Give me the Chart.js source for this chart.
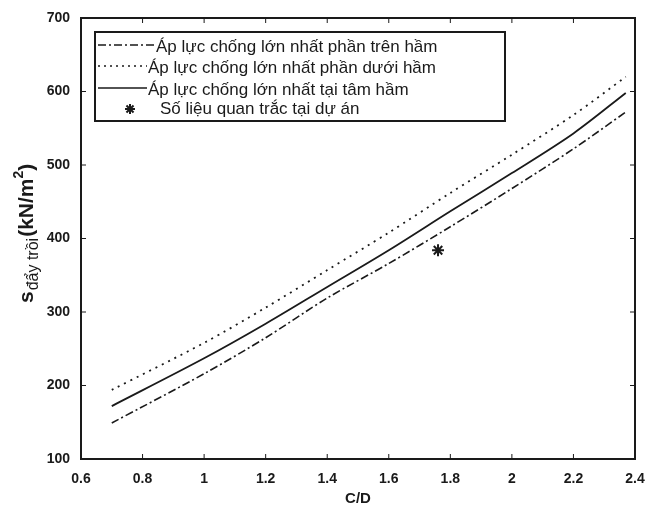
<!DOCTYPE html>
<html>
<head>
<meta charset="utf-8">
<script src="https://cdn.jsdelivr.net/npm/chart.js@4.4.1/dist/chart.umd.min.js"></script>
<style>
  html, body { margin: 0; padding: 0; background: #fff; }
  #wrap { width: 649px; height: 512px; }
</style>
</head>
<body>
<div id="wrap"><canvas id="apLucChart" width="649" height="512"></canvas></div>
<script>
// --- data ---
const cdValues   = [0.7, 1.0, 1.2, 1.4, 1.6, 1.8, 2.0, 2.2, 2.37];
const trenHam    = [149, 216, 265, 319, 366, 416, 468, 522, 572]; // dash-dot
const duoiHam    = [194, 258, 306, 357, 408, 462, 514, 568, 620]; // dotted
const tamHam     = [172, 237, 284, 334, 384, 437, 489, 543, 598]; // solid
const obsCD      = [1.76];
const obsValue   = [384];
const xTicks     = [0.6, 0.8, 1, 1.2, 1.4, 1.6, 1.8, 2, 2.2, 2.4];
const yTicks     = [100, 200, 300, 400, 500, 600, 700];
const legendText = [
  'Áp lực chống lớn nhất phần trên hầm',
  'Áp lực chống lớn nhất phần dưới hầm',
  'Áp lực chống lớn nhất tại tâm hầm',
  'Số liệu quan trắc tại dự án'
];

const ink = '#1a1a1a';
const fontFam = '"Liberation Sans", Arial, sans-serif';
const toPoints = (xs, ys) => xs.map((x, i) => ({ x: x, y: ys[i] }));

// --- axis box, inward ticks, legend and y title (MATLAB look) ---
const matlabDecor = {
  id: 'matlabDecor',
  afterDraw(chart) {
    const ctx = chart.ctx;
    const area = chart.chartArea;
    const xs = chart.scales.x;
    const ys = chart.scales.y;
    ctx.save();
    ctx.strokeStyle = ink;
    ctx.lineWidth = 2;
    ctx.strokeRect(area.left, area.top, area.right - area.left, area.bottom - area.top);

    ctx.lineWidth = 1;
    xTicks.forEach(v => {
      const px = xs.getPixelForValue(v);
      ctx.beginPath();
      ctx.moveTo(px, area.bottom); ctx.lineTo(px, area.bottom - 5);
      ctx.moveTo(px, area.top); ctx.lineTo(px, area.top + 5);
      ctx.stroke();
    });
    yTicks.forEach(v => {
      const py = ys.getPixelForValue(v);
      ctx.beginPath();
      ctx.moveTo(area.left, py); ctx.lineTo(area.left + 5, py);
      ctx.moveTo(area.right, py); ctx.lineTo(area.right - 5, py);
      ctx.stroke();
    });

    // legend box
    ctx.lineWidth = 2;
    ctx.strokeRect(95, 32, 410, 89);
    const rows = [47, 68, 90, 109];
    const dashes = [[8, 3, 2, 3], [2, 4], []];
    ctx.lineWidth = 1.6;
    for (let i = 0; i < 3; i++) {
      ctx.setLineDash(dashes[i]);
      ctx.beginPath();
      ctx.moveTo(98, rows[i] - 2);
      ctx.lineTo(i === 0 ? 154 : 147, rows[i] - 2);
      ctx.stroke();
    }
    ctx.setLineDash([]);
    // star marker
    const sx = 130, sy = rows[3];
    ctx.lineWidth = 2;
    ctx.beginPath();
    for (let k = 0; k < 4; k++) {
      const a = k * Math.PI / 4;
      ctx.moveTo(sx - 5 * Math.cos(a), sy - 5 * Math.sin(a));
      ctx.lineTo(sx + 5 * Math.cos(a), sy + 5 * Math.sin(a));
    }
    ctx.stroke();

    ctx.fillStyle = ink;
    ctx.font = '17px ' + fontFam;
    ctx.textBaseline = 'middle';
    ctx.textAlign = 'left';
    const textX = [156, 148, 148, 160];
    legendText.forEach((t, i) => ctx.fillText(t, textX[i], rows[i]));

    // y axis title: s_{đẩy trồi}(kN/m^2)
    ctx.translate(33, 303);
    ctx.rotate(-Math.PI / 2);
    ctx.textBaseline = 'alphabetic';
    ctx.font = 'bold 21px ' + fontFam;
    ctx.fillText('s', 0, 0);
    let off = ctx.measureText('s').width + 1;
    ctx.font = '16px ' + fontFam;
    ctx.fillText('đẩy trồi', off, 5);
    off += ctx.measureText('đẩy trồi').width + 1;
    ctx.font = 'bold 21px ' + fontFam;
    ctx.fillText('(kN/m', off, 0);
    off += ctx.measureText('(kN/m').width;
    ctx.font = 'bold 14px ' + fontFam;
    ctx.fillText('2', off, -10);
    off += ctx.measureText('2').width;
    ctx.font = 'bold 21px ' + fontFam;
    ctx.fillText(')', off, 0);
    ctx.restore();
  }
};

const ctx = document.getElementById('apLucChart').getContext('2d');
new Chart(ctx, {
  type: 'scatter',
  data: {
    datasets: [
      {
        label: legendText[0],
        data: toPoints(cdValues, trenHam),
        showLine: true,
        borderColor: ink,
        borderWidth: 1.6,
        borderDash: [8, 3, 2, 3],
        pointRadius: 0,
        tension: 0.3
      },
      {
        label: legendText[1],
        data: toPoints(cdValues, duoiHam),
        showLine: true,
        borderColor: ink,
        borderWidth: 1.8,
        borderDash: [2, 5],
        pointRadius: 0,
        tension: 0.3
      },
      {
        label: legendText[2],
        data: toPoints(cdValues, tamHam),
        showLine: true,
        borderColor: ink,
        borderWidth: 1.8,
        pointRadius: 0,
        tension: 0.3
      },
      {
        label: legendText[3],
        data: toPoints(obsCD, obsValue),
        showLine: false,
        pointStyle: 'star',
        pointRadius: 6,
        borderColor: ink,
        borderWidth: 2
      }
    ]
  },
  options: {
    responsive: false,
    animation: false,
    layout: { padding: { top: 18, right: 14, left: 0, bottom: 0 } },
    plugins: { legend: { display: false }, tooltip: { enabled: false } },
    scales: {
      x: {
        type: 'linear',
        min: 0.6, max: 2.4,
        afterBuildTicks: s => { s.ticks = xTicks.map(v => ({ value: v })); },
        afterFit: s => { s.height = 53; s.paddingLeft = 0; s.paddingRight = 0; },
        grid: { display: false, drawTicks: false },
        border: { display: false },
        ticks: {
          padding: 12,
          color: ink,
          font: { family: fontFam, size: 14, weight: 'bold' },
          callback: v => String(Number(v.toFixed(1)))
        },
        title: {
          display: true,
          text: 'C/D',
          color: ink,
          padding: { top: 2 },
          font: { family: fontFam, size: 15, weight: 'bold' }
        }
      },
      y: {
        min: 100, max: 700,
        afterBuildTicks: s => { s.ticks = yTicks.map(v => ({ value: v })); },
        afterFit: s => { s.width = 81; s.paddingTop = 0; s.paddingBottom = 0; },
        grid: { display: false, drawTicks: false },
        border: { display: false },
        ticks: {
          padding: 11,
          color: ink,
          font: { family: fontFam, size: 14, weight: 'bold' }
        }
      }
    }
  },
  plugins: [matlabDecor]
});
</script>
</body>
</html>
